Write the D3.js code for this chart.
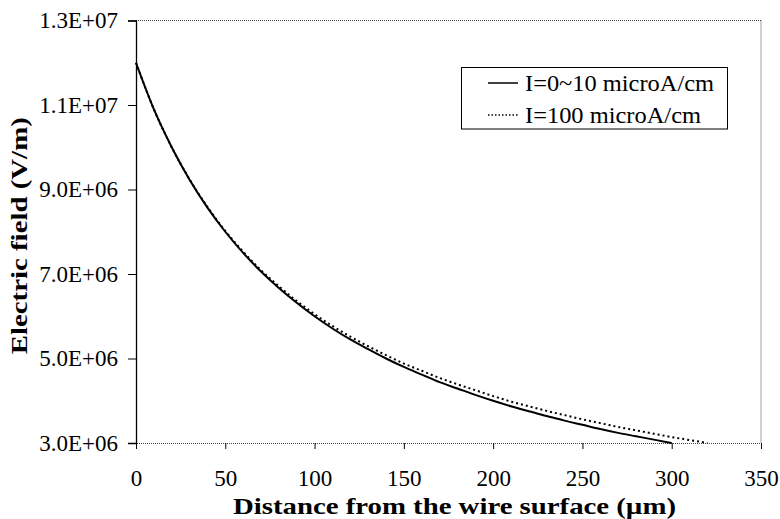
<!DOCTYPE html>
<html>
<head>
<meta charset="utf-8">
<script src="https://cdn.jsdelivr.net/npm/d3@7"></script>
<style>
  html, body { margin: 0; padding: 0; background: #fff; }
  svg { display: block; }
</style>
</head>
<body>
<svg id="chart" width="780" height="519" style="font-family: 'Liberation Serif'"></svg>
<script>
// ---- data ----
const distance = [0, 10, 20, 30, 40, 50, 60, 70, 80, 90, 100, 110, 120, 130, 140, 150,
  160, 170, 180, 190, 200, 210, 220, 230, 240, 250, 260, 270, 280, 290, 300];
const fieldLowCurrent = [12.0e6, 10.9e6, 10.0e6, 9.23e6, 8.57e6, 8.0e6, 7.5e6, 7.06e6, 6.67e6, 6.32e6,
  6.0e6, 5.71e6, 5.45e6, 5.22e6, 5.0e6, 4.8e6, 4.62e6, 4.44e6, 4.29e6, 4.14e6,
  4.0e6, 3.87e6, 3.75e6, 3.64e6, 3.53e6, 3.43e6, 3.33e6, 3.24e6, 3.16e6, 3.08e6, 3.0e6];
const distanceHigh = [0, 10, 20, 30, 40, 50, 60, 70, 80, 90, 100, 110, 120, 130, 140, 150,
  160, 170, 180, 190, 200, 210, 220, 230, 240, 250, 260, 270, 280, 290, 300, 310, 320];
const fieldHighCurrent = [12.0e6, 10.9e6, 10.0e6, 9.24e6, 8.59e6, 8.02e6, 7.53e6, 7.09e6, 6.71e6, 6.36e6,
  6.05e6, 5.77e6, 5.52e6, 5.29e6, 5.08e6, 4.88e6, 4.71e6, 4.54e6, 4.39e6, 4.25e6,
  4.11e6, 3.98e6, 3.87e6, 3.76e6, 3.66e6, 3.56e6, 3.47e6, 3.38e6, 3.30e6, 3.22e6, 3.14e6, 3.07e6, 3.0e6];
const seriesNames = ["I=0~10 microA/cm", "I=100 microA/cm"];
const xTicks = [0, 50, 100, 150, 200, 250, 300, 350];
const yTicks = [3e6, 5e6, 7e6, 9e6, 11e6, 13e6];
const yTickLabels = ["3.0E+06", "5.0E+06", "7.0E+06", "9.0E+06", "1.1E+07", "1.3E+07"];
const xTitle = "Distance from the wire surface (\u00b5m)";
const yTitle = "Electric field (V/m)";

// ---- layout ----
const FONT = '"Liberation Serif"';
const svg = d3.select("#chart");
const mLeft = 136, mRight = 761, mTop = 20.5, mBottom = 443;
const x = d3.scaleLinear().domain([0, 350]).range([mLeft, mRight]);
const y = d3.scaleLinear().domain([3e6, 13e6]).range([mBottom, mTop]);

// plot frame (top, right thin dotted gray)
const frame = svg.append("g");
frame.append("line").attr("x1", mLeft).attr("x2", mRight).attr("y1", mTop).attr("y2", mTop)
  .attr("stroke", "#444").attr("stroke-width", 1).attr("stroke-dasharray", "1,1");
frame.append("line").attr("x1", mRight).attr("x2", mRight).attr("y1", mTop).attr("y2", mBottom)
  .attr("stroke", "#444").attr("stroke-width", 1).attr("stroke-dasharray", "1,1");

// x axis
const xAxis = d3.axisBottom(x).tickValues(xTicks).tickSize(6).tickPadding(21).tickFormat(d3.format("d"));
const gx = svg.append("g").attr("transform", `translate(0,${mBottom})`).call(xAxis)
  .attr("font-family", null).attr("font-size", null);
gx.select(".domain").attr("stroke", "#444").attr("stroke-dasharray", "1,1");
gx.selectAll(".tick line").attr("stroke", "#000");
gx.selectAll(".tick text").style("font-family", FONT).style("font-size", "23px");

// y axis
const yAxis = d3.axisLeft(y).tickValues(yTicks).tickSize(8).tickPadding(10)
  .tickFormat((d, i) => yTickLabels[i]);
const gy = svg.append("g").attr("transform", `translate(${mLeft},0)`).call(yAxis)
  .attr("font-family", null).attr("font-size", null);
gy.select(".domain").attr("stroke", "#000").attr("stroke-width", 1.3);
gy.selectAll(".tick line").attr("stroke", "#000");
gy.selectAll(".tick text").style("font-family", FONT).style("font-size", "23px");

// titles
svg.append("text")
  .attr("x", (mLeft + mRight) / 2 + 6).attr("y", 514)
  .attr("text-anchor", "middle").style("font-family", FONT).style("font-weight", "bold").style("font-size", "24px")
  .attr("textLength", 443).attr("lengthAdjust", "spacingAndGlyphs")
  .text(xTitle);
svg.append("text")
  .attr("transform", `translate(27,${(mTop + mBottom) / 2 + 4}) rotate(-90)`)
  .attr("text-anchor", "middle").style("font-family", FONT).style("font-weight", "bold").style("font-size", "24px")
  .attr("textLength", 237).attr("lengthAdjust", "spacingAndGlyphs")
  .text(yTitle);

// curves
const line = d3.line().x(d => x(d[0])).y(d => y(d[1])).curve(d3.curveMonotoneX);
const dataLow = distance.map((d, i) => [d, fieldLowCurrent[i]]);
const dataHigh = distanceHigh.map((d, i) => [d, fieldHighCurrent[i]]);
svg.append("path").datum(dataHigh).attr("d", line)
  .attr("fill", "none").attr("stroke", "#000").attr("stroke-width", 2).attr("stroke-dasharray", "2,3");
svg.append("path").datum(dataLow).attr("d", line)
  .attr("fill", "none").attr("stroke", "#000").attr("stroke-width", 2);

// legend
const lg = svg.append("g");
lg.append("rect").attr("x", 461.5).attr("y", 67.5).attr("width", 266).attr("height", 61.5)
  .attr("fill", "#fff").attr("stroke", "#000").attr("stroke-width", 1);
const rows = [83, 115];
const legendTextLen = [189, 176];
rows.forEach((ry, i) => {
  lg.append("line").attr("x1", 488).attr("x2", 518).attr("y1", ry).attr("y2", ry)
    .attr("stroke", "#000").attr("stroke-width", 1.5)
    .attr("stroke-dasharray", i === 0 ? null : "1.5,2");
  lg.append("text").attr("x", 525).attr("y", ry + 7.5)
    .style("font-family", FONT).style("font-size", "23px")
    .attr("textLength", legendTextLen[i]).attr("lengthAdjust", "spacingAndGlyphs")
    .text(seriesNames[i]);
});
</script>
</body>
</html>
